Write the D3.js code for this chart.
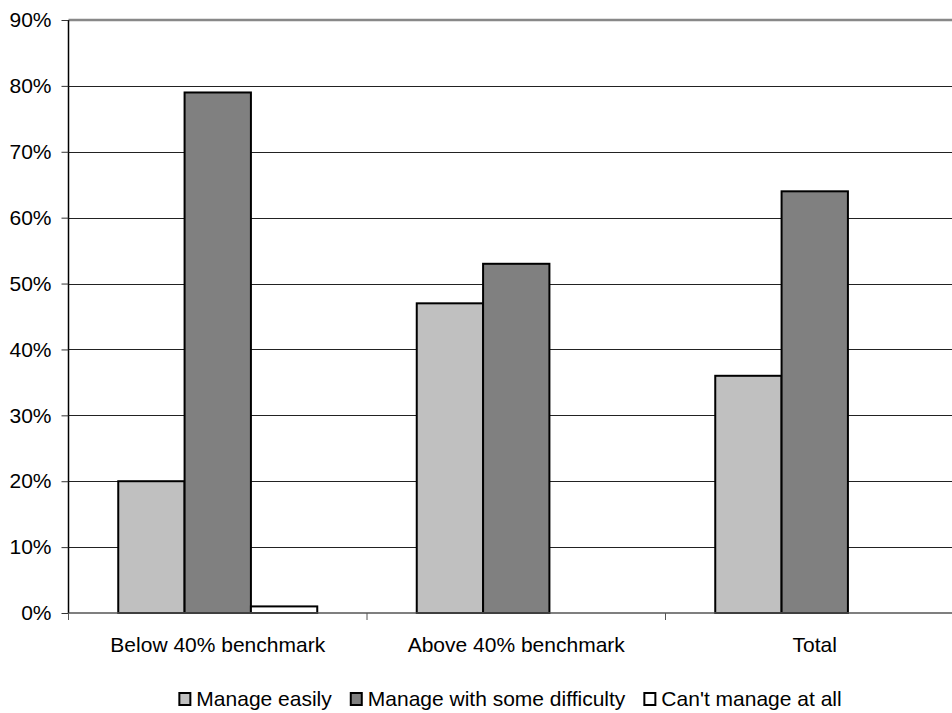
<!DOCTYPE html>
<html>
<head>
<meta charset="utf-8">
<script src="https://cdn.jsdelivr.net/npm/d3@7"></script>
<style>
  html, body { margin: 0; padding: 0; background: #fff; overflow: hidden; }
  svg { display: block; font-family: "Liberation Sans", Arial, sans-serif; }
</style>
</head>
<body>
<svg id="chart" width="952" height="713"></svg>
<script>
// Chart data
const categories = ["Below 40% benchmark", "Above 40% benchmark", "Total"];
const seriesNames = ["Manage easily", "Manage with some difficulty", "Can't manage at all"];
const manageEasily = [0.20, 0.47, 0.36];
const manageWithDifficulty = [0.79, 0.53, 0.64];
const cantManage = [0.01, 0.00, 0.00];
const yTicks = [0, 0.1, 0.2, 0.3, 0.4, 0.5, 0.6, 0.7, 0.8, 0.9];

const seriesValues = [manageEasily, manageWithDifficulty, cantManage];
const seriesFill = ["#c0c0c0", "#808080", "#ffffff"];

const FONT = 21;
const svg = d3.select("#chart");

// Plot area (extends slightly past the right edge of the page)
const plot = { left: 68.5, right: 964, top: 20, bottom: 613 };

const x = d3.scaleBand().domain(categories).range([plot.left, plot.right]).padding(0);
const xInner = d3.scaleBand().domain(seriesNames).range([0, x.bandwidth()])
  .paddingInner(0).paddingOuter(0.75);
const y = d3.scaleLinear().domain([0, 0.9]).range([plot.bottom, plot.top]);

// Horizontal gridlines
svg.append("g")
  .selectAll("line")
  .data(yTicks.filter(t => t > 0 && t < 0.9))
  .join("line")
  .attr("x1", plot.left).attr("x2", plot.right)
  .attr("y1", d => Math.round(y(d)) + 0.5).attr("y2", d => Math.round(y(d)) + 0.5)
  .attr("stroke", "#222").attr("stroke-width", 1);

// Plot area top border
svg.append("line")
  .attr("x1", plot.left).attr("x2", plot.right)
  .attr("y1", y(0.9)).attr("y2", y(0.9))
  .attr("stroke", "#888").attr("stroke-width", 2.5);

// Bars
const rows = [];
categories.forEach((c, ci) => {
  seriesNames.forEach((s, si) => {
    rows.push({ category: c, series: s, value: seriesValues[si][ci], fill: seriesFill[si] });
  });
});

svg.append("g")
  .selectAll("rect")
  .data(rows.filter(d => d.value > 0))
  .join("rect")
  .attr("x", d => x(d.category) + xInner(d.series))
  .attr("y", d => y(d.value))
  .attr("width", xInner.bandwidth())
  .attr("height", d => y(0) - y(d.value))
  .attr("fill", d => d.fill)
  .attr("stroke", "#000")
  .attr("stroke-width", 2);

// Y axis
const yAxis = d3.axisLeft(y)
  .tickValues(yTicks)
  .tickFormat(d3.format(".0%"))
  .tickSize(7)
  .tickPadding(10);

const yg = svg.append("g")
  .attr("transform", `translate(${plot.left},0)`)
  .call(yAxis)
  .attr("font-size", FONT)
  .attr("font-family", "Liberation Sans, Arial, sans-serif");
yg.select(".domain").attr("stroke", "#000").attr("stroke-width", 1.5)
  .attr("d", `M0,${plot.top}V${plot.bottom}`);
yg.selectAll(".tick line").attr("stroke", "#333");
yg.selectAll(".tick text").attr("fill", "#000");

// X axis: ticks between category groups, labels centred under each group
const xg = svg.append("g").attr("transform", `translate(0,${plot.bottom})`);
xg.append("line")
  .attr("x1", plot.left).attr("x2", plot.right)
  .attr("y1", 0).attr("y2", 0)
  .attr("stroke", "#555").attr("stroke-width", 1.5);
xg.selectAll("line.sep")
  .data(categories)
  .join("line")
  .attr("class", "sep")
  .attr("x1", d => x(d)).attr("x2", d => x(d))
  .attr("y1", 0).attr("y2", 7)
  .attr("stroke", "#555").attr("stroke-width", 1);
xg.selectAll("text")
  .data(categories)
  .join("text")
  .attr("x", d => x(d) + x.bandwidth() / 2)
  .attr("y", 38.5)
  .attr("text-anchor", "middle")
  .attr("font-size", FONT)
  .attr("fill", "#000")
  .text(d => d);

// Legend
const legend = svg.append("g");
const items = legend.selectAll("g")
  .data(seriesNames.map((s, i) => ({ name: s, fill: seriesFill[i] })))
  .join("g");
items.append("rect")
  .attr("x", 1).attr("y", -13)
  .attr("width", 11).attr("height", 12)
  .attr("fill", d => d.fill)
  .attr("stroke", "#000").attr("stroke-width", 2);
items.append("text")
  .attr("x", 18)
  .attr("y", 0)
  .attr("font-size", FONT)
  .attr("fill", "#000")
  .text(d => d.name);

const gap = 18;
let cursor = 0;
items.each(function () {
  const g = d3.select(this);
  const w = 18 + g.select("text").node().getComputedTextLength();
  g.attr("transform", `translate(${cursor},0)`);
  cursor += w + gap;
});
const totalWidth = cursor - gap;
legend.attr("transform", `translate(${510 - totalWidth / 2},706)`);
</script>
</body>
</html>
